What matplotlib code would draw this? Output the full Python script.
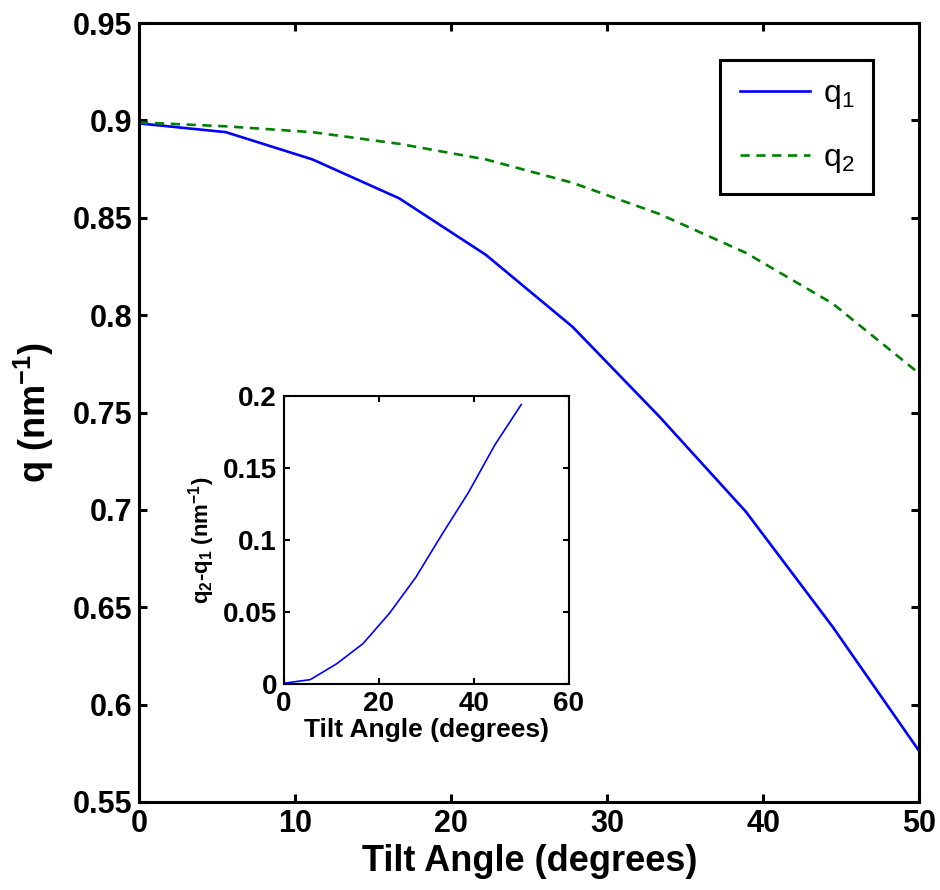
import numpy as np
import matplotlib
matplotlib.use('Agg')
from matplotlib import pyplot as plt

# tilt angles (degrees) and peak positions
angle = [0, 5.56, 11.11, 16.67, 22.22, 27.78, 33.33, 38.89, 44.44, 50]
q1 = [0.8985, 0.894, 0.880, 0.860, 0.831, 0.794, 0.748, 0.699, 0.640, 0.576]
q2 = [0.899, 0.897, 0.894, 0.888, 0.880, 0.868, 0.852, 0.832, 0.806, 0.770]

plt.rcParams['font.family'] = ['Liberation Sans', 'DejaVu Sans']
plt.rcParams['mathtext.default'] = 'regular'


def style_axes(ax, lw, ticklen, size):
    for s in ax.spines.values():
        s.set_linewidth(lw)
    ax.tick_params(direction='in', top=True, right=True, length=ticklen,
                   width=lw, labelsize=size, pad=5)
    for lab in ax.get_xticklabels() + ax.get_yticklabels():
        lab.set_fontweight('bold')


fig = plt.figure(figsize=(9.4, 8.9), dpi=100)
ax = fig.add_axes([0.148, 0.099, 0.830, 0.875])
ax.plot(angle, q1, color='#0000ff', lw=1.9, label='q$_1$')
ax.plot(angle, q2, color='#008000', lw=1.9, ls=(0, (3.5, 2.5)), label='q$_2$')
ax.set_xlim(0, 50)
ax.set_ylim(0.55, 0.95)
ax.set_xticks([0, 10, 20, 30, 40, 50])
ax.set_yticks([0.55, 0.6, 0.65, 0.7, 0.75, 0.8, 0.85, 0.9, 0.95])
ax.set_yticklabels(['0.55', '0.6', '0.65', '0.7', '0.75', '0.8', '0.85', '0.9', '0.95'])
style_axes(ax, 2.2, 6, 22)
ax.set_xlabel('Tilt Angle (degrees)', fontsize=26, fontweight='bold', labelpad=4)
ax.set_ylabel('q (nm$^{-1}$)', fontsize=26, fontweight='bold', labelpad=12)

leg = ax.legend(loc='upper right', bbox_to_anchor=(0.941, 0.9525), fontsize=23,
                fancybox=False, edgecolor='black', framealpha=1,
                handlelength=2.2, handletextpad=0.4, borderpad=0.6,
                labelspacing=1.0, borderaxespad=0)
leg.get_frame().set_linewidth(2.2)

# inset: difference q2 - q1
diff = np.array(q2) - np.array(q1)
ins = fig.add_axes([0.302, 0.2315, 0.303, 0.3236])
ins.plot(angle, diff, color='#0000ff', lw=1.2)
ins.set_xlim(0, 60)
ins.set_ylim(0, 0.2)
ins.set_xticks([0, 20, 40, 60])
ins.set_yticks([0, 0.05, 0.1, 0.15, 0.2])
ins.set_yticklabels(['0', '0.05', '0.1', '0.15', '0.2'])
style_axes(ins, 1.5, 4, 20)
ins.set_xlabel('Tilt Angle (degrees)', fontsize=19, fontweight='bold', labelpad=1)
ins.set_ylabel('q$_2$-q$_1$ (nm$^{-1}$)', fontsize=16, fontweight='bold', labelpad=4)

fig.savefig('out.png', dpi=100, facecolor='white')
